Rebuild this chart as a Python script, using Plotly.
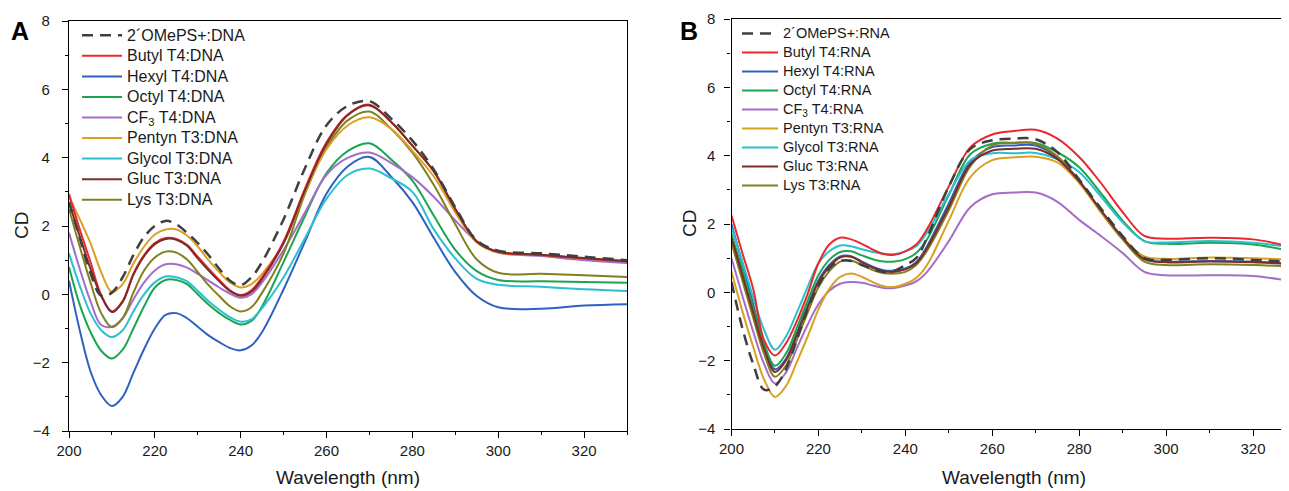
import plotly.graph_objects as go

# ---------------- data ----------------
wavelength = [200, 202.5, 205, 207.5, 210, 212.5, 215, 217.5, 220, 222.5, 225, 227.5, 230, 232.5,
              235, 237.5, 240, 242.5, 245, 250, 255, 260, 265, 270, 275, 280, 285, 290, 295, 300,
              310, 320, 330]

# Panel A : DNA duplexes
dna_names = ["2´OMePS+:DNA", "Butyl T4:DNA", "Hexyl T4:DNA", "Octyl T4:DNA",
             "CF<sub>3</sub> T4:DNA", "Pentyn T3:DNA", "Glycol T3:DNA", "Gluc T3:DNA", "Lys T3:DNA"]
dna_ref    = [2.70, 1.65, 0.62, -0.04, 0.05, 0.50, 1.15, 1.68, 2.00, 2.15, 2.05, 1.80, 1.50, 1.15,
              0.75, 0.40, 0.27, 0.50, 0.95, 2.20, 3.70, 4.95, 5.52, 5.65, 5.15, 4.50, 3.65, 2.55, 1.58, 1.28,
              1.20, 1.10, 1.00]
dna_butyl  = [2.94, 1.90, 0.95, -0.02, -0.50, -0.20, 0.60, 1.15, 1.50, 1.65, 1.62, 1.45, 1.10, 0.75,
              0.42, 0.12, -0.02, 0.12, 0.50, 1.55, 3.10, 4.45, 5.27, 5.55, 5.05, 4.35, 3.60, 2.50, 1.55, 1.24,
              1.15, 1.05, 0.96]
dna_hexyl  = [0.40, -1.05, -2.25, -2.95, -3.27, -3.00, -2.30, -1.60, -1.00, -0.60, -0.55, -0.70, -0.95, -1.20,
              -1.40, -1.57, -1.64, -1.50, -1.10, 0.15, 1.55, 2.95, 3.75, 4.02, 3.45, 2.70, 1.65, 0.65, -0.05, -0.38,
              -0.42, -0.33, -0.29]
dna_octyl  = [0.80, -0.30, -1.10, -1.65, -1.88, -1.62, -1.00, -0.35, 0.20, 0.42, 0.42, 0.30, 0.00, -0.30,
              -0.55, -0.75, -0.88, -0.78, -0.35, 0.95, 2.30, 3.55, 4.20, 4.42, 3.95, 3.33, 2.30, 1.30, 0.68, 0.42,
              0.38, 0.36, 0.34]
dna_cf3    = [1.80, 0.75, -0.20, -0.90, -0.95, -0.70, -0.15, 0.35, 0.70, 0.88, 0.88, 0.78, 0.60, 0.40,
              0.20, 0.02, -0.10, 0.00, 0.35, 1.30, 2.40, 3.50, 4.00, 4.15, 3.85, 3.43, 2.85, 2.16, 1.55, 1.22,
              1.12, 1.00, 0.92]
dna_pentyn = [2.85, 2.20, 1.50, 0.65, 0.07, 0.30, 0.90, 1.40, 1.75, 1.90, 1.90, 1.72, 1.40, 1.00,
              0.65, 0.35, 0.20, 0.30, 0.60, 1.50, 3.00, 4.25, 4.95, 5.18, 4.85, 4.20, 3.45, 2.40, 1.52, 1.22,
              1.15, 1.05, 0.98]
dna_glycol = [1.20, 0.25, -0.55, -1.05, -1.25, -1.05, -0.50, 0.00, 0.35, 0.52, 0.50, 0.38, 0.10, -0.20,
              -0.45, -0.67, -0.80, -0.73, -0.40, 0.50, 1.65, 2.80, 3.50, 3.68, 3.40, 3.00, 1.90, 1.05, 0.45, 0.28,
              0.22, 0.15, 0.10]
dna_gluc   = [2.70, 1.70, 0.75, -0.05, -0.52, -0.22, 0.57, 1.12, 1.47, 1.62, 1.60, 1.42, 1.05, 0.70,
              0.38, 0.10, -0.04, 0.08, 0.45, 1.50, 3.05, 4.40, 5.25, 5.53, 5.05, 4.35, 3.60, 2.50, 1.55, 1.25,
              1.16, 1.06, 0.97]
dna_lys    = [2.50, 1.40, 0.35, -0.55, -0.96, -0.70, 0.05, 0.70, 1.08, 1.25, 1.22, 1.02, 0.65, 0.27,
              -0.05, -0.35, -0.50, -0.38, 0.05, 1.20, 2.95, 4.30, 5.10, 5.35, 4.85, 4.15, 3.20, 2.05, 1.02, 0.63,
              0.60, 0.56, 0.51]

# Panel B : RNA duplexes
rna_names = ["2´OMePS+:RNA", "Butyl T4:RNA", "Hexyl T4:RNA", "Octyl T4:RNA",
             "CF<sub>3</sub> T4:RNA", "Pentyn T3:RNA", "Glycol T3:RNA", "Gluc T3:RNA", "Lys T3:RNA"]
rna_ref    = [0.30, -1.05, -2.10, -2.85, -2.75, -2.25, -1.40, -0.50, 0.20, 0.70, 0.92, 0.92, 0.80, 0.68,
              0.60, 0.63, 0.80, 1.00, 1.60, 3.10, 4.20, 4.45, 4.50, 4.48, 4.10, 3.30, 2.45, 1.65, 1.00, 0.95,
              1.00, 0.95, 0.88]
rna_butyl  = [2.25, 1.15, 0.10, -1.40, -1.85, -1.50, -0.85, -0.05, 0.85, 1.40, 1.60, 1.55, 1.42, 1.25,
              1.12, 1.10, 1.20, 1.40, 1.85, 3.10, 4.25, 4.62, 4.72, 4.76, 4.50, 3.96, 3.20, 2.35, 1.65, 1.57,
              1.60, 1.55, 1.30]
rna_hexyl  = [2.00, 0.85, -0.35, -1.50, -2.25, -1.95, -1.20, -0.40, 0.35, 0.80, 1.05, 1.06, 0.90, 0.75,
              0.65, 0.64, 0.70, 0.88, 1.35, 2.60, 3.82, 4.25, 4.30, 4.30, 3.95, 3.27, 2.40, 1.60, 0.98, 0.90,
              0.92, 0.90, 0.82]
rna_octyl  = [1.70, 0.65, -0.45, -1.50, -2.15, -1.80, -1.05, -0.25, 0.50, 0.95, 1.18, 1.20, 1.08, 0.97,
              0.90, 0.90, 0.97, 1.15, 1.55, 2.85, 4.05, 4.35, 4.38, 4.37, 4.10, 3.66, 2.90, 2.10, 1.50, 1.42,
              1.45, 1.40, 1.18]
rna_cf3    = [1.00, -0.10, -1.15, -2.10, -2.67, -2.35, -1.65, -0.95, -0.35, 0.05, 0.25, 0.30, 0.28, 0.20,
              0.13, 0.13, 0.20, 0.32, 0.60, 1.50, 2.50, 2.87, 2.92, 2.92, 2.65, 2.12, 1.65, 1.15, 0.60, 0.50,
              0.50, 0.48, 0.30]
rna_pentyn = [0.60, -0.55, -1.60, -2.55, -3.06, -2.75, -2.05, -1.30, -0.50, 0.10, 0.45, 0.55, 0.45, 0.30,
              0.18, 0.16, 0.25, 0.42, 0.80, 2.10, 3.38, 3.87, 3.95, 3.97, 3.80, 3.20, 2.35, 1.60, 1.05, 0.98,
              1.02, 1.00, 0.95]
rna_glycol = [1.90, 0.90, -0.15, -1.10, -1.68, -1.30, -0.60, 0.15, 0.85, 1.20, 1.37, 1.35, 1.26, 1.18,
              1.13, 1.12, 1.20, 1.35, 1.75, 2.88, 3.87, 4.07, 4.07, 4.08, 3.90, 3.52, 2.80, 2.05, 1.50, 1.46,
              1.50, 1.45, 1.30]
rna_gluc   = [1.60, 0.50, -0.60, -1.65, -2.33, -2.00, -1.25, -0.45, 0.30, 0.75, 1.02, 1.04, 0.88, 0.72,
              0.62, 0.60, 0.67, 0.85, 1.30, 2.50, 3.75, 4.15, 4.20, 4.20, 3.90, 3.25, 2.40, 1.60, 0.97, 0.88,
              0.90, 0.88, 0.82]
rna_lys    = [1.45, 0.35, -0.75, -1.80, -2.47, -2.15, -1.40, -0.60, 0.15, 0.62, 0.90, 0.93, 0.80, 0.65,
              0.56, 0.55, 0.60, 0.80, 1.22, 2.40, 3.70, 4.30, 4.37, 4.35, 3.98, 3.25, 2.35, 1.55, 0.90, 0.80,
              0.82, 0.80, 0.75]

x_ticks = [200, 220, 240, 260, 280, 300, 320]
y_ticks = [-4, -2, 0, 2, 4, 6, 8]

colors = ["#3f3f3f", "#e8292e", "#2e62c0", "#1ca550", "#a46dc9",
          "#d9a121", "#2bbfd0", "#7d2b2b", "#808020"]

dna_series = [dna_ref, dna_butyl, dna_hexyl, dna_octyl, dna_cf3, dna_pentyn, dna_glycol, dna_gluc, dna_lys]
rna_series = [rna_ref, rna_butyl, rna_hexyl, rna_octyl, rna_cf3, rna_pentyn, rna_glycol, rna_gluc, rna_lys]

FONT = "Liberation Sans, Arial, sans-serif"

# page body has an 8px margin: the figure is sized to the visible window area
OFF = 8
W, H = 1289 - OFF, 491 - OFF
def fx(px):  # window px -> paper x
    return (px - OFF) / W
def fy(py):  # window px -> paper y
    return 1 - (py - OFF) / H

fig = go.Figure()

order = [2, 3, 6, 4, 8, 5, 1, 7, 0]   # dashed reference drawn last (on top)
for names, series, xa, ya, lg, tsize in [
        (dna_names, dna_series, "x", "y", "legend", 16),
        (rna_names, rna_series, "x2", "y2", "legend2", 14.5)]:
    for i in order:
        fig.add_trace(go.Scatter(
            x=wavelength, y=series[i],
            name='<span style="font-size:%spx">%s</span>' % (tsize, names[i]),
            mode="lines",
            line=dict(color=colors[i], width=2.5 if i == 0 else 2,
                      dash="11px,7px" if i == 0 else "solid",
                      shape="spline", smoothing=1.0),
            xaxis=xa, yaxis=ya, legend=lg, legendrank=i + 1))

axis_common = dict(showline=True, linecolor="black", linewidth=1.2,
                   ticks="outside", ticklen=6, tickwidth=1.2, tickcolor="black",
                   showgrid=False, zeroline=False, automargin=False,
                   tickfont=dict(family=FONT, size=15, color="#1a1a1a"))

def label(text, px, py, angle=0):
    return dict(text=text, x=fx(px), y=fy(py), xref="paper", yref="paper",
                xanchor="center", yanchor="middle", textangle=angle, showarrow=False,
                font=dict(family=FONT, size=19, color="#1a1a1a"))

fig.update_layout(
    width=W, height=H,
    margin=dict(l=0, r=0, t=0, b=0),
    paper_bgcolor="white", plot_bgcolor="white",
    font=dict(family=FONT, color="#1a1a1a"),
    xaxis=dict(domain=[fx(69), fx(627)], range=[200, 330], tickvals=x_ticks,
               mirror=True, anchor="y",
               minor=dict(dtick=10, tick0=200, ticks="outside", ticklen=3, tickcolor="black"),
               **axis_common),
    yaxis=dict(domain=[fy(431), fy(21)], range=[-4, 8], tickvals=y_ticks,
               mirror=True, anchor="x", ticklabelstandoff=9,
               minor=dict(dtick=1, tick0=0, ticks="outside", ticklen=3, tickcolor="black"),
               **axis_common),
    xaxis2=dict(domain=[fx(731.5), 1.0], range=[200, 200 + (1289 - 731.5) / 4.346],
                tickvals=x_ticks, mirror=True, anchor="y2",
                minor=dict(dtick=10, tick0=200, ticks="outside", ticklen=3, tickcolor="black"),
                **axis_common),
    yaxis2=dict(domain=[fy(429), fy(19)], range=[-4, 8], tickvals=y_ticks,
                mirror=False, anchor="x2", ticklabelstandoff=6,
                minor=dict(dtick=1, tick0=0, ticks="outside", ticklen=3, tickcolor="black"),
                **axis_common),
    legend=dict(x=fx(77), y=fy(20), xanchor="left", yanchor="top",
                bgcolor="rgba(0,0,0,0)", borderwidth=0, itemwidth=40,
                font=dict(family=FONT, size=13.5, color="#1a1a1a"), traceorder="normal"),
    legend2=dict(x=fx(737), y=fy(19), xanchor="left", yanchor="top",
                 bgcolor="rgba(0,0,0,0)", borderwidth=0, itemwidth=36,
                 font=dict(family=FONT, size=12, color="#1a1a1a"), traceorder="normal"),
    annotations=[
        dict(text="<b>A</b>", x=fx(20), y=fy(31), xref="paper", yref="paper",
             xanchor="center", yanchor="middle",
             showarrow=False, font=dict(family=FONT, size=25, color="black")),
        dict(text="<b>B</b>", x=fx(689), y=fy(31), xref="paper", yref="paper",
             xanchor="center", yanchor="middle",
             showarrow=False, font=dict(family=FONT, size=25, color="black")),
        label("Wavelength (nm)", 348, 477),
        label("Wavelength (nm)", 1014, 477),
        label("CD", 21, 226, -90),
        label("CD", 690, 224, -90),
    ],
)

fig.write_html("out.html")
